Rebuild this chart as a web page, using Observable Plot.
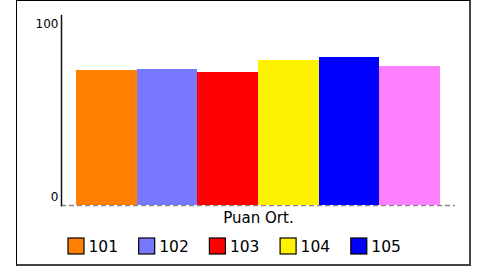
<!DOCTYPE html>
<html>
<head>
<meta charset="utf-8">
<script src="https://cdn.jsdelivr.net/npm/d3@7"></script>
<script src="https://cdn.jsdelivr.net/npm/@observablehq/plot@0.6"></script>
<style>
  html, body { margin: 0; padding: 0; background: #fff; }
  #wrap { position: relative; width: 489px; height: 267px; font-family: "DejaVu Sans", sans-serif; }
  #border { position: absolute; left: 16px; top: 0px; width: 452px; height: 263px;
            border-left: 1px solid #000; border-top: 1px solid #000;
            border-right: 2px solid #444; border-bottom: 2px solid #444; pointer-events: none; }
  #chart, #legend { position: absolute; left: 0; }
  #chart { top: 0; }
  #legend { top: 230px; }
  svg { overflow: visible; }
</style>
</head>
<body>
<div id="wrap">
  <div id="chart"></div>
  <div id="legend"></div>
  <div id="border"></div>
</div>
<script>
const categories = ["101", "102", "103", "104", "105", "106"];
const values = [71, 71.6, 70, 76.3, 77.9, 73.2];
const colors = ["#ff8000", "#7878ff", "#ff0000", "#fff200", "#0000ff", "#ff80ff"];
const legendItems = ["101", "102", "103", "104", "105"];
const yTicks = [0, 100];
const xLabel = "Puan Ort.";

const data = categories.map((c, i) => ({category: c, value: values[i], color: colors[i]}));
const colorOf = Object.fromEntries(categories.map((c, i) => [c, colors[i]]));

const chart = Plot.plot({
  width: 489,
  height: 230,
  marginLeft: 61,
  marginRight: 34,
  marginTop: 15,
  marginBottom: 25,
  style: {fontFamily: "DejaVu Sans, sans-serif", background: "transparent"},
  x: {domain: categories, padding: 0, round: false, insetLeft: 15, insetRight: 15, axis: null},
  y: {domain: [0, 100], axis: null},
  marks: [
    Plot.ruleY([0], {stroke: "#888", strokeWidth: 1.5, strokeDasharray: "5,3"}),
    Plot.barY(data, {x: "category", y: "value", fill: "color", inset: 0, shapeRendering: "crispEdges"}),
    Plot.frame({anchor: "left", stroke: "#111", strokeWidth: 1.5}),
    Plot.text(yTicks.filter(t => t === 100), {y: d => d, frameAnchor: "left", textAnchor: "end", dx: -3, dy: 8.5, fontSize: 12, fill: "#000", text: d => String(d)}),
    Plot.text(yTicks.filter(t => t === 0), {y: d => d, frameAnchor: "left", textAnchor: "end", dx: -3, dy: -8, fontSize: 12, fill: "#000", text: d => String(d)}),
    Plot.text([xLabel], {frameAnchor: "bottom", dy: 17, fontSize: 15, fill: "#000", text: d => d})
  ]
});
document.getElementById("chart").appendChild(chart);

const legend = Plot.plot({
  width: 489,
  height: 37,
  marginLeft: 68,
  marginRight: 489 - 68 - 5 * 70.7,
  marginTop: 8,
  marginBottom: 13,
  style: {fontFamily: "DejaVu Sans, sans-serif", background: "transparent"},
  x: {domain: legendItems, padding: 0, round: false, axis: null},
  marks: [
    Plot.cell(legendItems, {x: d => d, fill: d => colorOf[d], stroke: "#000", strokeWidth: 1.2, insetRight: 70.7 - 16}),
    Plot.text(legendItems, {x: d => d, frameAnchor: "middle", textAnchor: "start", dx: -70.7 / 2 + 20, dy: 1, fontSize: 15.5, fill: "#000", text: d => d})
  ]
});
document.getElementById("legend").appendChild(legend);
</script>
</body>
</html>
